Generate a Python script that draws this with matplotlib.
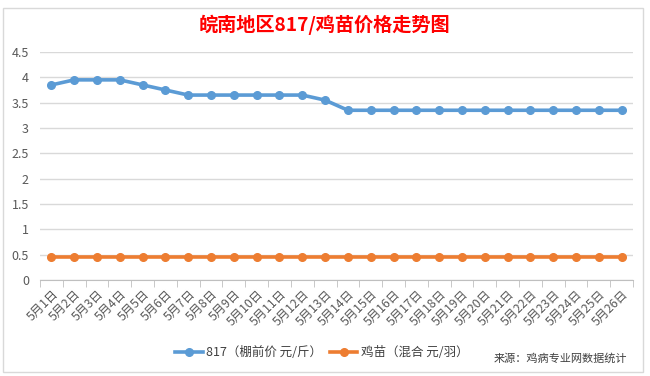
import matplotlib
matplotlib.use("Agg")
import matplotlib.pyplot as plt
from matplotlib.patches import Rectangle

plt.rcParams['font.family'] = ['Noto Sans CJK SC', 'DejaVu Sans']

categories = [f"5月{d}日" for d in range(1, 27)]
price_817 = [3.85, 3.95, 3.95, 3.95, 3.85, 3.75, 3.65, 3.65, 3.65, 3.65, 3.65, 3.65, 3.55,
             3.35, 3.35, 3.35, 3.35, 3.35, 3.35, 3.35, 3.35, 3.35, 3.35, 3.35, 3.35, 3.35]
price_chick = [0.45] * 26
y_ticks = [0, 0.5, 1, 1.5, 2, 2.5, 3, 3.5, 4, 4.5]
y_tick_labels = ["0", "0.5", "1", "1.5", "2", "2.5", "3", "3.5", "4", "4.5"]

W, H = 650, 376
fig = plt.figure(figsize=(W / 100, H / 100), dpi=100)
fig.patch.set_facecolor('white')

# chart border
fig.patches.append(Rectangle((3 / W, 1 - 372 / H), 640 / W, 364 / H, transform=fig.transFigure,
                             fill=False, edgecolor='#d9d9d9', linewidth=1))

ax = fig.add_axes([40 / W, 1 - 280 / H, 593 / W, 228 / H])
x = list(range(len(categories)))
blue = '#5b9bd5'
orange = '#ed7d31'
l1, = ax.plot(x, price_817, color=blue, linewidth=2.6, marker='o', markersize=5.5,
              label='817（棚前价 元/斤）', zorder=3)
l2, = ax.plot(x, price_chick, color=orange, linewidth=2.6, marker='o', markersize=5.5,
              label='鸡苗（混合 元/羽）', zorder=3)

ax.set_xlim(-0.5, len(categories) - 0.5)
ax.set_ylim(0, 4.5)
ax.set_yticks(y_ticks)
ax.set_yticklabels(y_tick_labels, fontsize=9, color='#595959')
ax.yaxis.grid(True, color='#d9d9d9', linewidth=1)
ax.set_axisbelow(True)
ax.tick_params(axis='y', length=0, pad=8)

ax.set_xticks(x)
ax.set_xticklabels(categories, rotation=45, ha='right', va='top', rotation_mode='anchor',
                   fontsize=8.8, color='#595959')
ax.tick_params(axis='x', length=0, pad=5.5)
ax.set_xticks([i - 0.5 for i in range(len(categories) + 1)], minor=True)
ax.tick_params(axis='x', which='minor', length=5, color='#bfbfbf', direction='out')

for s in ['top', 'right', 'left']:
    ax.spines[s].set_visible(False)
ax.spines['bottom'].set_color('#bfbfbf')

fig.text(324 / W, 1 - 25 / H, '皖南地区817/鸡苗价格走势图', ha='center', va='center',
         fontsize=13.8, fontweight='bold', color='#ff0000')

leg = fig.legend(handles=[l1, l2], loc='center', bbox_to_anchor=(322 / W, 1 - 353 / H), ncol=2,
                 frameon=False, fontsize=9, handlelength=2.2, handletextpad=0.3,
                 columnspacing=0.6)
for t in leg.get_texts():
    t.set_color('#404040')

fig.text(627 / W, 1 - 358 / H, '来源：鸡病专业网数据统计', ha='right', va='center',
         fontsize=8, color='#404040')

fig.savefig('out.png', dpi=100, facecolor='white')
